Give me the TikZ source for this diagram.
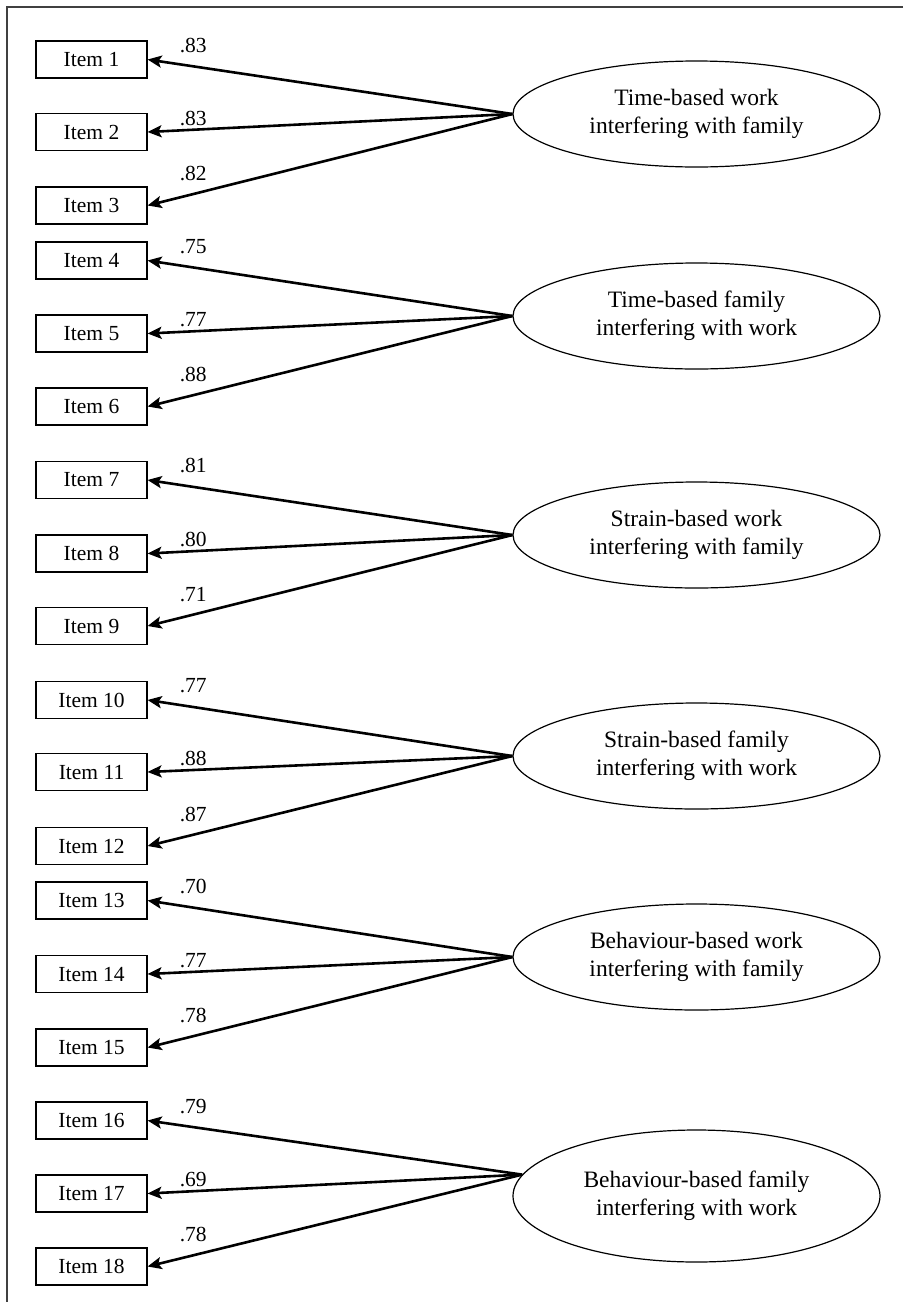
\documentclass[tikz,border=0pt]{standalone}
\usepackage{fontspec}
\setmainfont{Liberation Serif}
\usetikzlibrary{arrows.meta,shapes.geometric}
\begin{document}
\begin{tikzpicture}[x=1pt,y=-1pt,
  item/.style={draw, line width=1.1pt, minimum width=111pt, minimum height=37pt, inner sep=0pt, font=\fontsize{21.5}{24}\selectfont},
  factor/.style={draw, ellipse, line width=1.2pt, minimum width=367pt, minimum height=106pt, inner sep=0pt, align=center, font=\fontsize{23.5}{28}\selectfont},
  load/.style={line width=2.6pt, -{Stealth[length=14pt,width=12pt,inset=3pt]}},
  lbl/.style={font=\fontsize{21.5}{24}\selectfont, inner sep=0pt, anchor=base west},
  frame/.style={line width=1.2pt, black!75}]
\useasboundingbox (0,0) rectangle (903,1302);
\draw[frame] (903,7) -- (7,7) -- (7,1302);

% group 1
\node[item] (i1) at (91.5,59.5) {Item 1};
\node[item] (i2) at (91.5,132) {Item 2};
\node[item] (i3) at (91.5,205.5) {Item 3};
\node[factor] (f1) at (696.5,114) {Time-based work\\interfering with family};
% group 2
\node[item] (i4) at (91.5,260.5) {Item 4};
\node[item] (i5) at (91.5,333.5) {Item 5};
\node[item] (i6) at (91.5,406.5) {Item 6};
\node[factor] (f2) at (696.5,316) {Time-based family\\interfering with work};
% group 3
\node[item] (i7) at (91.5,480) {Item 7};
\node[item] (i8) at (91.5,553.5) {Item 8};
\node[item] (i9) at (91.5,626) {Item 9};
\node[factor] (f3) at (696.5,535) {Strain-based work\\interfering with family};
% group 4
\node[item] (i10) at (91.5,700) {Item 10};
\node[item] (i11) at (91.5,772) {Item 11};
\node[item] (i12) at (91.5,846) {Item 12};
\node[factor] (f4) at (696.5,756) {Strain-based family\\interfering with work};
% group 5
\node[item] (i13) at (91.5,900.5) {Item 13};
\node[item] (i14) at (91.5,974) {Item 14};
\node[item] (i15) at (91.5,1047.5) {Item 15};
\node[factor] (f5) at (696.5,957) {Behaviour-based work\\interfering with family};
% group 6
\node[item] (i16) at (91.5,1120.5) {Item 16};
\node[item] (i17) at (91.5,1193.5) {Item 17};
\node[item] (i18) at (91.5,1266.5) {Item 18};
\node[factor, minimum height=132pt] (f6) at (696.5,1196) {Behaviour-based family\\interfering with work};

\foreach \f/\a/\b/\c in {f1.west/i1/i2/i3, f2.west/i4/i5/i6, f3.west/i7/i8/i9, f4.west/i10/i11/i12, f5.west/i13/i14/i15, f6.173/i16/i17/i18}{
  \draw[load] (\f) -- (\a.east);
  \draw[load] (\f) -- (\b.east);
  \draw[load] (\f) -- (\c.east);
}

\node[lbl] (l1) at ([xshift=32pt,yshift=7.5pt]i1.east) {.83};
\node[lbl] (l2) at ([xshift=32pt,yshift=7pt]i2.east) {.83};
\node[lbl] (l3) at ([xshift=32pt,yshift=25pt]i3.east) {.82};
\node[lbl] (l4) at ([xshift=32pt,yshift=7.5pt]i4.east) {.75};
\node[lbl] (l5) at ([xshift=32pt,yshift=7pt]i5.east) {.77};
\node[lbl] (l6) at ([xshift=32pt,yshift=25pt]i6.east) {.88};
\node[lbl] (l7) at ([xshift=32pt,yshift=7.5pt]i7.east) {.81};
\node[lbl] (l8) at ([xshift=32pt,yshift=7pt]i8.east) {.80};
\node[lbl] (l9) at ([xshift=32pt,yshift=25pt]i9.east) {.71};
\node[lbl] (l10) at ([xshift=32pt,yshift=7.5pt]i10.east) {.77};
\node[lbl] (l11) at ([xshift=32pt,yshift=7pt]i11.east) {.88};
\node[lbl] (l12) at ([xshift=32pt,yshift=25pt]i12.east) {.87};
\node[lbl] (l13) at ([xshift=32pt,yshift=7.5pt]i13.east) {.70};
\node[lbl] (l14) at ([xshift=32pt,yshift=7pt]i14.east) {.77};
\node[lbl] (l15) at ([xshift=32pt,yshift=25pt]i15.east) {.78};
\node[lbl] (l16) at ([xshift=32pt,yshift=7.5pt]i16.east) {.79};
\node[lbl] (l17) at ([xshift=32pt,yshift=7pt]i17.east) {.69};
\node[lbl] (l18) at ([xshift=32pt,yshift=25pt]i18.east) {.78};
\end{tikzpicture}
\end{document}
